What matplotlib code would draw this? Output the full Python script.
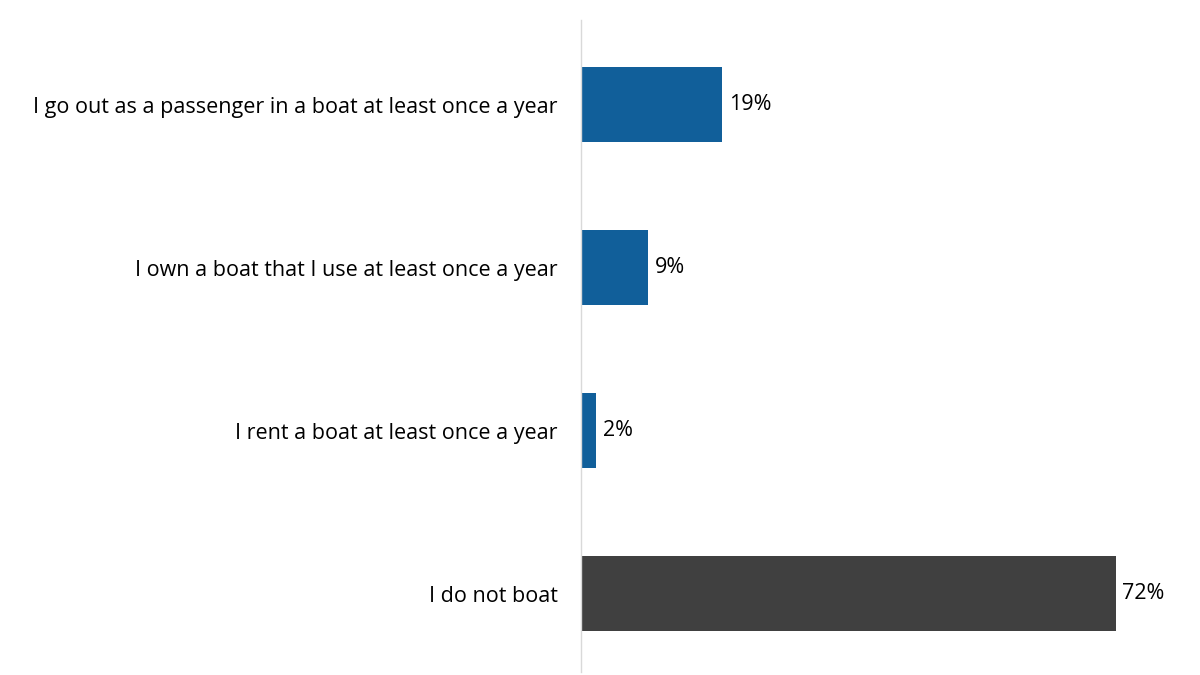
import matplotlib.pyplot as plt

categories = [
    "I go out as a passenger in a boat at least once a year",
    "I own a boat that I use at least once a year",
    "I rent a boat at least once a year",
    "I do not boat",
]
values = [19, 9, 2, 72]
colors = ["#115F9A", "#115F9A", "#115F9A", "#404040"]

plt.rcParams["font.family"] = ["Open Sans", "DejaVu Sans"]

fig = plt.figure(figsize=(12, 6.75), dpi=100)
ax = fig.add_axes([0.4842, 0.0044, 0.4825, 0.966])

pos = list(range(len(categories)))
ax.barh(pos, values, height=0.46, color=colors)

for p, v in zip(pos, values):
    ax.text(v + 0.9, p, f"{v}%", va="center", ha="left", fontsize=15.5, color="#000000")

ax.set_ylim(3.48, -0.52)
ax.set_xlim(0, 78)
ax.set_yticks(pos)
ax.set_yticklabels(categories, fontsize=15.5)
ax.tick_params(axis="y", length=0, pad=17)
ax.set_xticks([])

for side in ["top", "right", "bottom"]:
    ax.spines[side].set_visible(False)
ax.spines["left"].set_color("#D9D9D9")
ax.spines["left"].set_linewidth(1)

fig.savefig("out.png", dpi=100)
